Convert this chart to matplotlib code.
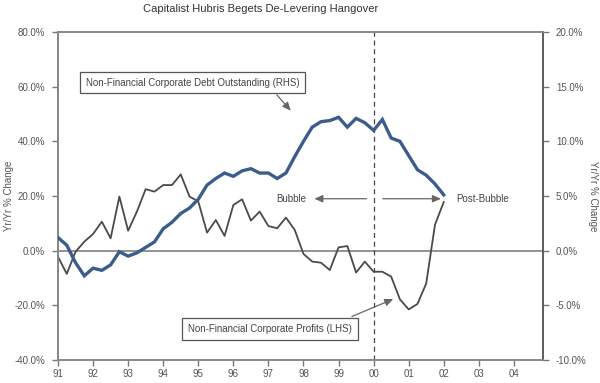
import matplotlib
matplotlib.use("Agg")
import matplotlib.pyplot as plt
import numpy as np

plt.rcParams['font.family'] = ['Liberation Sans', 'DejaVu Sans']

# Quarterly observations 1991Q1 .. 2002Q1
start_year = 1991
n_quarters = 45
years = start_year + np.arange(n_quarters) * 0.25

# Non-Financial Corporate Debt Outstanding, Yr/Yr % (RHS)
debt = [1.2, 0.5, -1.1, -2.3, -1.6, -1.8, -1.3, -0.1, -0.5, -0.2,
        0.3, 0.8, 2.0, 2.6, 3.4, 3.9, 4.7, 6.0, 6.6, 7.1,
        6.8, 7.3, 7.5, 7.1, 7.1, 6.6, 7.1, 8.6, 10.0, 11.3,
        11.8, 11.9, 12.2, 11.3, 12.1, 11.7, 11.0, 12.0, 10.3, 10.0,
        8.7, 7.4, 6.9, 6.1, 5.1]

# Non-Financial Corporate Profits, Yr/Yr % (LHS)
profits = [-2.2, -8.5, -0.4, 3.3, 6.1, 10.6, 4.5, 19.8, 7.3, 14.3,
           22.5, 21.6, 24.0, 24.0, 27.9, 19.8, 18.0, 6.6, 11.2, 5.4,
           16.7, 18.8, 11.0, 14.3, 9.0, 8.2, 12.1, 7.6, -1.2, -4.0,
           -4.4, -7.1, 1.2, 1.7, -8.0, -4.0, -7.7, -7.7, -9.5, -17.8,
           -21.5, -19.5, -12.0, 9.5, 17.8]

xtick_years = list(range(1991, 2005))
xtick_labels = ['91', '92', '93', '94', '95', '96', '97', '98', '99',
                '00', '01', '02', '03', '04']
left_ticks = [-40, -20, 0, 20, 40, 60, 80]
right_ticks = [-10, -5, 0, 5, 10, 15, 20]

title = 'Capitalist Hubris Begets De-Levering Hangover'
ylabel = 'Yr/Yr % Change'

TXT = '#555555'
AX = '#888888'

fig = plt.figure(figsize=(6.0, 3.83), dpi=100)
ax = fig.add_axes([58/600, 1-360/383, (543-58)/600, (360-32)/383])
ax2 = ax.twinx()

ax.set_xlim(1991, 2004.83)
ax.set_ylim(-40, 80)
ax2.set_ylim(-10, 20)

# zero line
ax.axhline(0, color='#8a8a8a', lw=1.3, zorder=1)
# bubble divider
ax.axvline(2000, color='#444444', lw=0.9, ls=(0, (4, 3)), zorder=1)

ax.plot(years, profits, color='#4a4a4a', lw=1.3, zorder=3)
ax2.plot(years, debt, color='#3c5d8c', lw=2.4, zorder=3, solid_joinstyle='miter')

ax.set_xticks(xtick_years)
ax.set_xticklabels(xtick_labels)
ax.set_yticks(left_ticks)
ax.set_yticklabels([f'{v:.1f}%' for v in left_ticks])
ax2.set_yticks(right_ticks)
ax2.set_yticklabels([f'{v:.1f}%' for v in right_ticks])

for a in (ax, ax2):
    a.tick_params(axis='both', colors='#777777', labelcolor=TXT, labelsize=7,
                  length=4.3, width=1, direction='out')
    a.tick_params(axis='y', pad=5)
    a.tick_params(axis='x', pad=2.5)
    for s in a.spines.values():
        s.set_color(AX)
        s.set_linewidth(1.2)
ax2.spines['right'].set_color('#555555')
ax.spines['left'].set_color('#777777')

fig.text(261/600, 1-9/383, title, ha='center', va='center', fontsize=8, color='#333333')
fig.text(9/600, 1 - 196/383, ylabel, rotation=90, ha='center', va='center',
         fontsize=7, color=TXT)
fig.text(593/600, 1 - 196/383, ylabel, rotation=-90, ha='center', va='center',
         fontsize=7, color=TXT)

box = dict(boxstyle='square,pad=0.6', fc='white', ec='#555555', lw=0.9)
ax.text(1994.83, 61.5, 'Non-Financial Corporate Debt Outstanding (RHS)', ha='center', va='center',
        fontsize=7, color='#444444', bbox=box, zorder=5)
ax.text(1997.05, -28.6, 'Non-Financial Corporate Profits (LHS)', ha='center', va='center',
        fontsize=7, color='#444444', bbox=box, zorder=5)

arr = dict(arrowstyle='-|>,head_length=0.5,head_width=0.22', color='#666666', lw=0.9,
           shrinkA=0, shrinkB=0)
ax.annotate('', xy=(1997.64, 51.2), xytext=(1997.24, 57.0), arrowprops=arr)
ax.annotate('', xy=(2000.56, -17.7), xytext=(1999.38, -24.1), arrowprops=arr)
ax.annotate('', xy=(1998.31, 19.0), xytext=(1999.80, 19.0), arrowprops=arr)
ax.annotate('', xy=(2001.92, 19.0), xytext=(2000.26, 19.0), arrowprops=arr)
ax.text(1997.64, 19.0, 'Bubble', ha='center', va='center', fontsize=7, color='#444444')
ax.text(2002.37, 19.0, 'Post-Bubble', ha='left', va='center', fontsize=7, color='#444444')

fig.savefig('out.png', dpi=100)
